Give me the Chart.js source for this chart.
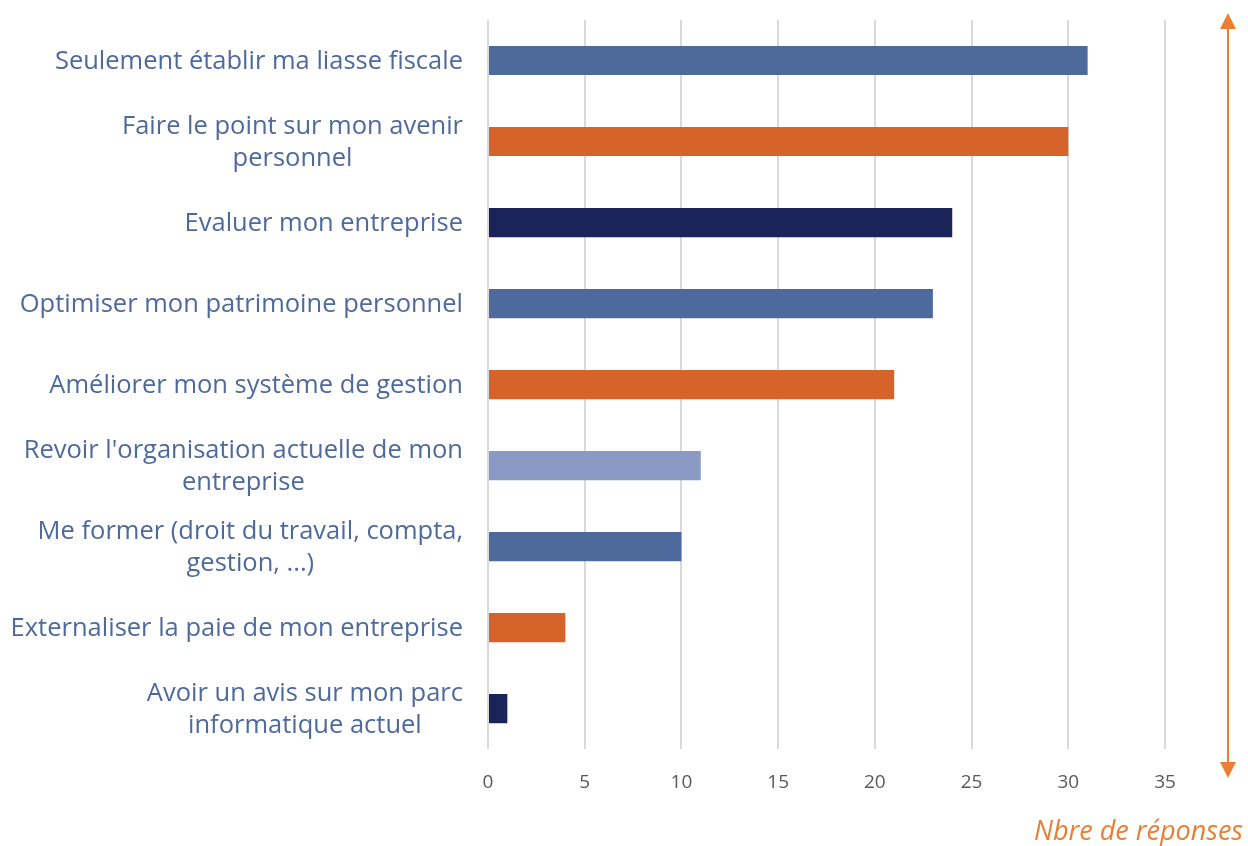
<!DOCTYPE html>
<html>
<head>
<meta charset="utf-8">
<script src="https://cdn.jsdelivr.net/npm/chart.js@4.4.1/dist/chart.umd.min.js"></script>
<style>
  html, body { margin: 0; padding: 0; background: #fff; }
  #wrap { width: 1248px; height: 846px; }
</style>
</head>
<body>
<div id="wrap"><canvas id="chart"></canvas></div>
<script>
// ---------------- DATA ----------------
const categories = [
  ["Seulement établir ma liasse fiscale"],
  ["Faire le point sur mon avenir", "personnel"],
  ["Evaluer mon entreprise"],
  ["Optimiser mon patrimoine personnel"],
  ["Améliorer mon système de gestion"],
  ["Revoir l'organisation actuelle de mon", "entreprise"],
  ["Me former (droit du travail, compta,", "gestion, ...)"],
  ["Externaliser la paie de mon entreprise"],
  ["Avoir un avis sur mon parc", "informatique actuel"]
];
const responses = [31, 30, 24, 23, 21, 11, 10, 4, 1];
const barColors = ["#4e6a9c", "#d6632a", "#1b2459", "#4e6a9c", "#d6632a",
                   "#8a9ac4", "#4e6a9c", "#d6632a", "#1b2459"];
const axisTitle = "Nbre de réponses";

const LABEL_FONT = "25.5px 'Open Sans'";
const LABEL_COLOR = "#4e6a9c";
const ORANGE = "#ed7d31";

// category labels: block right-aligned, lines centred on each other
const labelPlugin = {
  id: "catLabels",
  afterDraw(chart) {
    const ctx = chart.ctx;
    const y = chart.scales.y;
    const right = 463;
    const lineH = 32;
    ctx.save();
    ctx.font = LABEL_FONT;
    ctx.fillStyle = LABEL_COLOR;
    ctx.textAlign = "center";
    ctx.textBaseline = "middle";
    categories.forEach((lines, i) => {
      const cy = y.getPixelForValue(i) + 1.5;
      const w = Math.max(...lines.map(l => ctx.measureText(l).width));
      const cx = right - w / 2;
      const top = cy - (lines.length - 1) * lineH / 2;
      lines.forEach((l, k) => ctx.fillText(l, cx, top + k * lineH));
    });
    ctx.restore();
  }
};

// orange double arrow + axis title on the right
const arrowPlugin = {
  id: "arrow",
  afterDraw(chart) {
    const ctx = chart.ctx;
    const x = 1228, y0 = 13, y1 = 778, head = 16, hw = 8;
    ctx.save();
    ctx.strokeStyle = ORANGE;
    ctx.fillStyle = ORANGE;
    ctx.lineWidth = 2;
    ctx.beginPath();
    ctx.moveTo(x, y0 + head);
    ctx.lineTo(x, y1 - head);
    ctx.stroke();
    ctx.beginPath();
    ctx.moveTo(x, y0); ctx.lineTo(x - hw, y0 + head); ctx.lineTo(x + hw, y0 + head);
    ctx.closePath(); ctx.fill();
    ctx.beginPath();
    ctx.moveTo(x, y1); ctx.lineTo(x - hw, y1 - head); ctx.lineTo(x + hw, y1 - head);
    ctx.closePath(); ctx.fill();
    ctx.font = "italic 27px 'Open Sans'";
    ctx.textAlign = "right";
    ctx.textBaseline = "alphabetic";
    ctx.fillText(axisTitle, 1243, 840);
    ctx.restore();
  }
};

new Chart(document.getElementById("chart"), {
  type: "bar",
  data: {
    labels: categories,
    datasets: [{
      data: responses,
      backgroundColor: barColors,
      barPercentage: 0.36,
      categoryPercentage: 1.0
    }]
  },
  options: {
    indexAxis: "y",
    responsive: true,
    maintainAspectRatio: false,
    animation: false,
    layout: { padding: { left: 488, right: 83, top: 20, bottom: 30 } },
    plugins: { legend: { display: false }, tooltip: { enabled: false } },
    scales: {
      x: {
        min: 0, max: 35,
        ticks: { stepSize: 5, color: "#595959",
                 font: { family: "'Open Sans'", size: 19 }, padding: 22 },
        grid: { color: "#d9d9d9", lineWidth: 2, drawTicks: false },
        border: { display: false }
      },
      y: { display: false }
    }
  },
  plugins: [labelPlugin, arrowPlugin]
});
</script>
</body>
</html>
